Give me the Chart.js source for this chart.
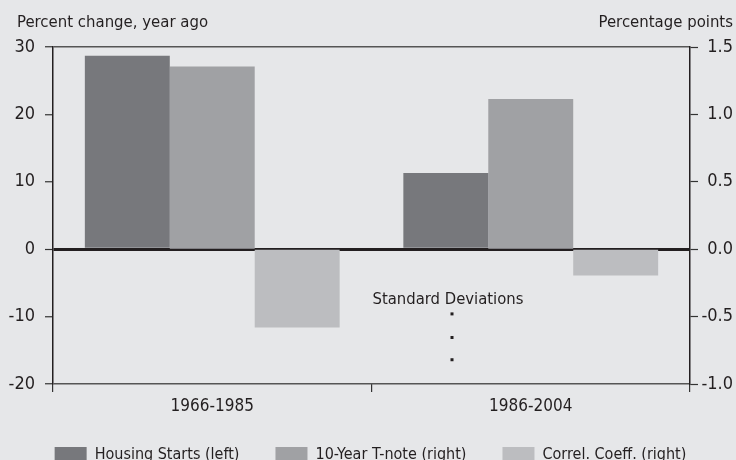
<!DOCTYPE html>
<html>
<head>
<meta charset="utf-8">
<script src="https://cdn.jsdelivr.net/npm/chart.js@4.4.1/dist/chart.umd.min.js"></script>
<style>
  html, body { margin:0; padding:0; background:#e6e7e9; overflow:hidden; }
  #wrap { width:736px; height:473px; }
</style>
</head>
<body>
<div id="wrap"><canvas id="c" width="736" height="473"></canvas></div>
<script>
const categories = ['1966-1985', '1986-2004'];
const housingStarts = [28.7, 11.3];     // left axis, percent change
const tNote = [1.355, 1.115];          // right axis, percentage points
const correlCoeff = [-0.58, -0.195];   // right axis
const leftTicks = [-20, -10, 0, 10, 20, 30];
const rightTicks = [-1.0, -0.5, 0.0, 0.5, 1.0, 1.5];

const FONT = "'Liberation Sans Narrow', 'DejaVu Sans Condensed', sans-serif";
const TXT = '#231f20';

// axis captions, note and dots
const extras = {
  id: 'extras',
  afterDraw(chart) {
    const ctx = chart.ctx, x = chart.scales.x, y = chart.scales.y;
    ctx.save();
    ctx.fillStyle = TXT;
    ctx.font = '16.6px ' + FONT;
    ctx.textBaseline = 'middle';
    ctx.textAlign = 'left';
    ctx.fillText('Percent change, year ago', 17, 23);
    ctx.textAlign = 'right';
    ctx.fillText('Percentage points', 733, 23);
    // note between the groups
    const mid = (x.getPixelForValue(0) + x.getPixelForValue(1)) / 2;
    ctx.textAlign = 'left';
    ctx.font = '16.5px ' + FONT;
    ctx.fillText('Standard Deviations', mid + 1, y.getPixelForValue(-7.5));
    [-9.6, -13.1, -16.4].forEach(v => {
      ctx.fillRect(mid + 79, y.getPixelForValue(v) - 1.5, 3, 3);
    });
    ctx.restore();
  }
};

const chart = new Chart(document.getElementById('c'), {
  type: 'bar',
  data: {
    labels: categories,
    datasets: [
      { label: 'Housing Starts (left)', data: housingStarts, backgroundColor: '#77787c', yAxisID: 'y' },
      { label: '10-Year T-note (right)', data: tNote, backgroundColor: '#a0a1a4', yAxisID: 'y2' },
      { label: 'Correl. Coeff. (right)', data: correlCoeff, backgroundColor: '#bcbdc0', yAxisID: 'y2' }
    ]
  },
  options: {
    responsive: false,
    animation: false,
    layout: { padding: { top: 47, left: 8, right: 3, bottom: 0 } },
    datasets: { bar: { categoryPercentage: 0.8, barPercentage: 1.0 } },
    plugins: {
      tooltip: { enabled: false },
      legend: {
        position: 'bottom',
        labels: {
          boxWidth: 32, boxHeight: 16, padding: 36,
          color: TXT, font: { family: FONT, size: 16 }
        }
      }
    },
    scales: {
      x: {
        offset: true,
        grid: { offset: true, drawOnChartArea: false, color: '#333', tickLength: 8, lineWidth: 1.2 },
        border: { display: false },
        ticks: { color: TXT, font: { family: FONT, size: 17 }, padding: 4 },
        afterFit(s) { s.height = 27; }
      },
      y: {
        position: 'left',
        min: -20, max: 30,
        afterBuildTicks(s) { s.ticks = leftTicks.map(v => ({ value: v })); },
        grid: {
          color: c => c.tick.value === 0 ? '#231f20' : (c.tick.value === 30 || c.tick.value === -20 ? '#555' : 'rgba(0,0,0,0)'),
          lineWidth: c => c.tick.value === 0 ? 3 : 1.5,
          tickColor: '#333', tickLength: 8, tickWidth: 1.2
        },
        border: { display: true, color: '#231f20', width: 1.5 },
        ticks: { color: TXT, font: { family: FONT, size: 18 }, padding: 10 },
        afterFit(s) { s.width = 45; }
      },
      y2: {
        position: 'right',
        min: -1, max: 1.5,
        afterBuildTicks(s) { s.ticks = rightTicks.map(v => ({ value: v })); },
        grid: { drawOnChartArea: false, tickColor: '#333', tickLength: 8, tickWidth: 1.2 },
        border: { display: true, color: '#231f20', width: 1.5 },
        ticks: { color: TXT, font: { family: FONT, size: 18 }, padding: 3, crossAlign: 'far', callback: v => v.toFixed(1) },
        afterFit(s) { s.width = 43; }
      }
    }
  },
  plugins: [extras]
});
</script>
</body>
</html>
